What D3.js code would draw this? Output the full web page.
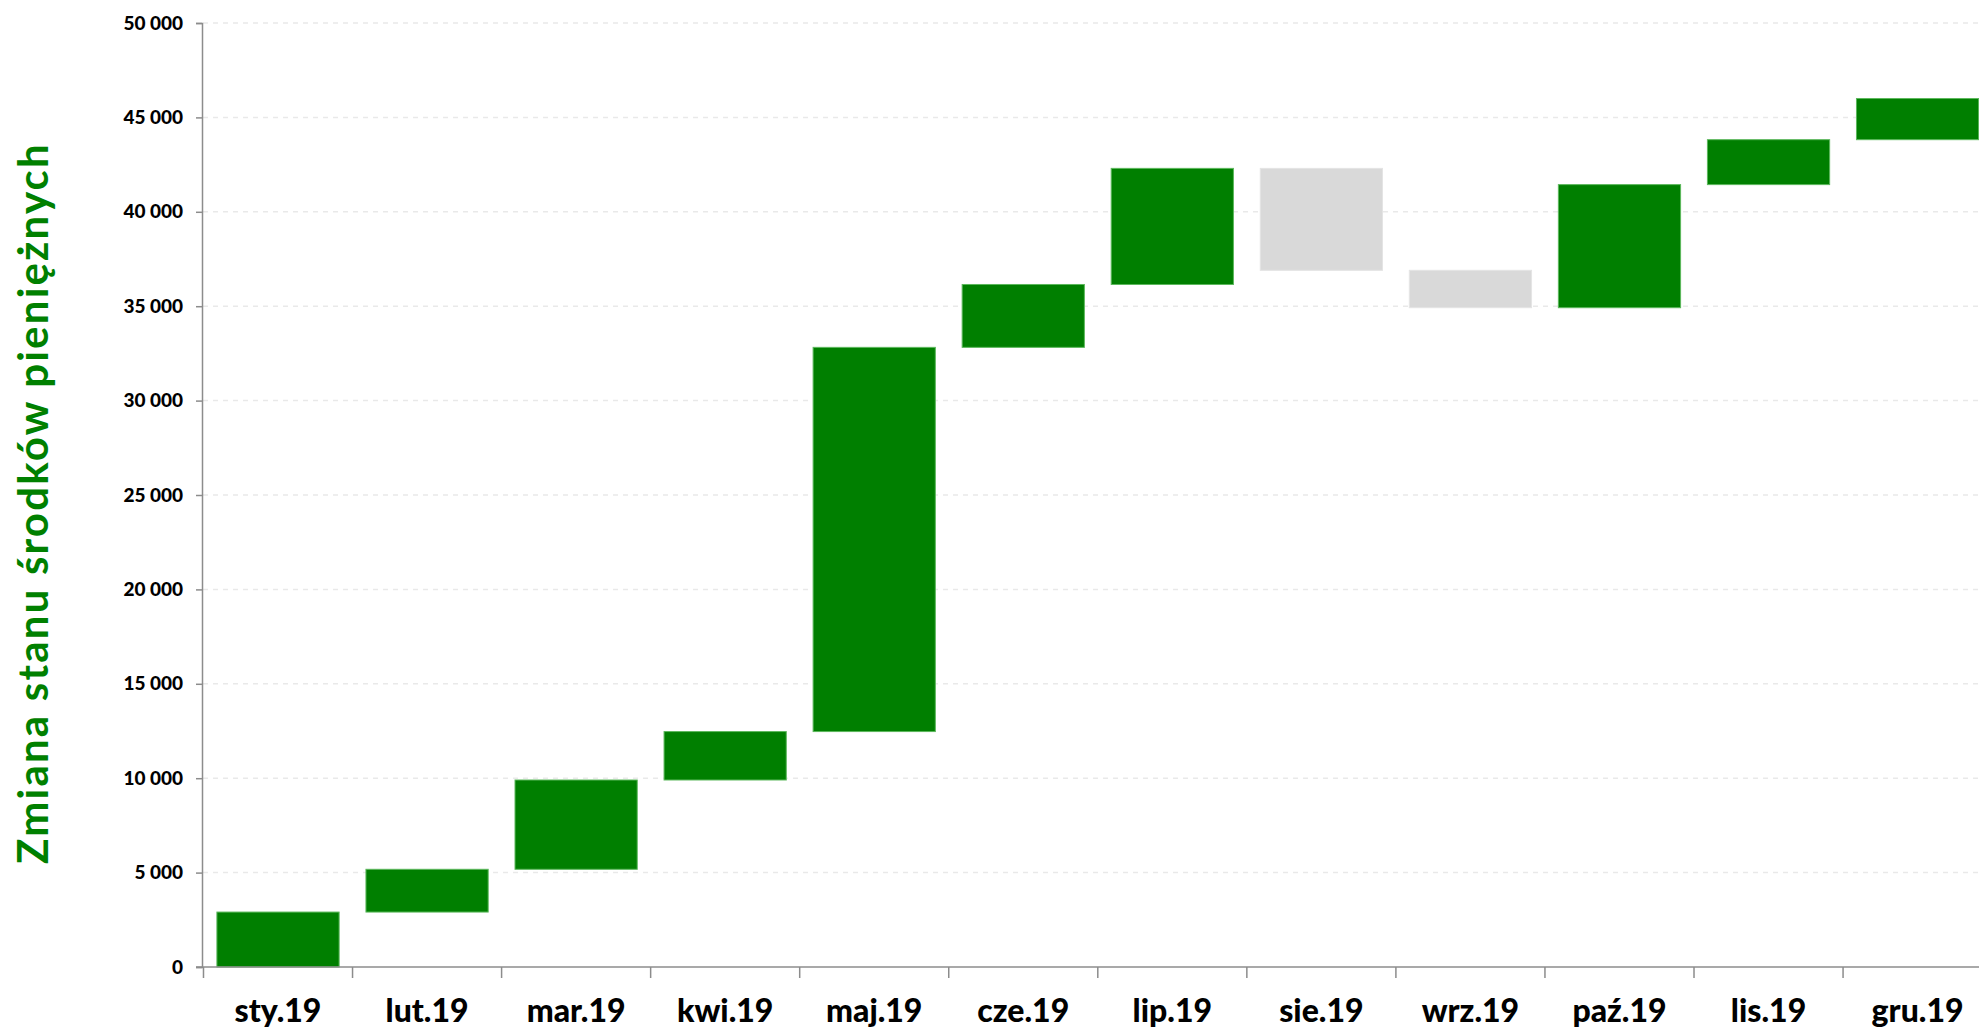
<!DOCTYPE html>
<html>
<head>
<meta charset="utf-8">
<script src="https://cdn.jsdelivr.net/npm/d3@7"></script>
<style>
  html, body { margin: 0; padding: 0; background: #fff; overflow: hidden; }
  svg { display: block; }
</style>
</head>
<body>
<script>
const months = ["sty.19", "lut.19", "mar.19", "kwi.19", "maj.19", "cze.19",
  "lip.19", "sie.19", "wrz.19", "paź.19", "lis.19", "gru.19"];
// monthly change of cash (waterfall steps)
const changes = [2910, 2265, 4730, 2565, 20350, 3330, 6150, -5400, -1980, 6520, 2380, 2180];
const yTicks = [0, 5000, 10000, 15000, 20000, 25000, 30000, 35000, 40000, 45000, 50000];
const yTitle = "Zmiana stanu środków pieniężnych";

const W = 1979, H = 1031;
const margin = { left: 202, top: 23, bottom: 967 };
const step = 149.3;

const ends = d3.cumsum(changes);
const data = months.map((m, i) => ({
  month: m,
  start: i === 0 ? 0 : ends[i - 1],
  end: ends[i],
  up: changes[i] >= 0
}));

const svg = d3.select("body").append("svg")
  .attr("width", W)
  .attr("height", H);

const x = d3.scaleBand()
  .domain(months)
  .range([margin.left, margin.left + step * months.length])
  .paddingInner(0.18)
  .paddingOuter(0.1);

const y = d3.scaleLinear().domain([0, 50000]).range([margin.bottom, margin.top]);

const fmt = (v) => d3.format(",")(v).replace(/,/g, "\u00a0");

// gridlines
svg.append("g")
  .selectAll("line")
  .data(yTicks.filter((d) => d > 0))
  .join("line")
  .attr("x1", margin.left + 1)
  .attr("x2", W)
  .attr("y1", (d) => y(d))
  .attr("y2", (d) => y(d))
  .attr("stroke", "#e9e9e9")
  .attr("stroke-width", 1.5)
  .attr("stroke-dasharray", "5,5");

// bars
svg.append("g")
  .selectAll("rect")
  .data(data)
  .join("rect")
  .attr("x", (d) => x(d.month))
  .attr("width", x.bandwidth())
  .attr("y", (d) => y(Math.max(d.start, d.end)))
  .attr("height", (d) => Math.abs(y(d.start) - y(d.end)))
  .attr("fill", (d) => (d.up ? "#007f00" : "#d9d9d9"))
  .attr("stroke", (d) => (d.up ? "#5cb85c" : "#e4e4e4"))
  .attr("stroke-width", 1);

// y axis
const yaxis = d3.axisLeft(y).tickValues(yTicks).tickSize(6).tickPadding(13).tickFormat(fmt);
const yg = svg.append("g")
  .attr("transform", `translate(${margin.left},0)`)
  .call(yaxis);
yg.select(".domain").attr("stroke", "#8c8c8c").attr("stroke-width", 1.5);
yg.selectAll(".tick line").attr("stroke", "#8c8c8c").attr("stroke-width", 1.5);
yg.selectAll(".tick text")
  .attr("fill", "#000")
  .style("font-family", "Lato, 'Open Sans', sans-serif")
  .style("font-weight", "900")
  .style("font-size", "19px");

// x axis
const xg = svg.append("g").attr("transform", `translate(0,${margin.bottom})`);
xg.append("line")
  .attr("x1", margin.left - 6)
  .attr("x2", W)
  .attr("stroke", "#8c8c8c")
  .attr("stroke-width", 1.5);
xg.selectAll("line.tick")
  .data(months)
  .join("line")
  .attr("class", "tick")
  .attr("x1", (d) => x(d) - x.step() * x.paddingInner() / 2)
  .attr("x2", (d) => x(d) - x.step() * x.paddingInner() / 2)
  .attr("y1", 0)
  .attr("y2", 11)
  .attr("stroke", "#8c8c8c")
  .attr("stroke-width", 1.5);
xg.selectAll("text")
  .data(months)
  .join("text")
  .attr("x", (d) => x(d) + x.bandwidth() / 2)
  .attr("y", 55)
  .attr("text-anchor", "middle")
  .attr("fill", "#000")
  .style("font-family", "Lato, 'Open Sans', sans-serif")
  .style("font-weight", "900")
  .style("font-size", "32px")
  .text((d) => d);

// y title
svg.append("text")
  .attr("transform", "translate(48,503) rotate(-90)")
  .attr("text-anchor", "middle")
  .attr("fill", "#008000")
  .style("font-family", "Lato, 'Open Sans', sans-serif")
  .style("font-weight", "bold")
  .style("font-size", "42px")
  .style("letter-spacing", "2.2px")
  .text(yTitle);
</script>
</body>
</html>
